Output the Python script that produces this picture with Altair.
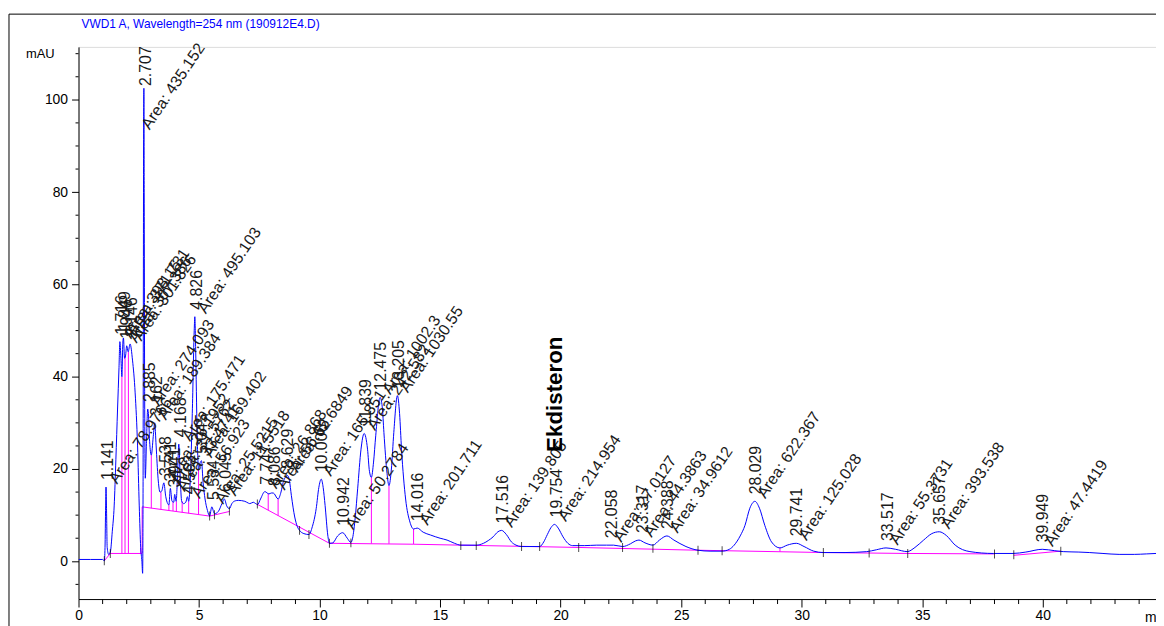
import altair as alt
import pandas as pd

TITLE = "VWD1 A, Wavelength=254 nm (190912E4.D)"

# ---- signal trace (min, mAU) ----
trace_t = [0.0, 0.5, 1.0, 1.07, 1.10, 1.125, 1.141, 1.16, 1.19, 1.25, 1.32, 1.40, 1.48, 1.55, 1.62, 1.68,
           1.716, 1.76, 1.80, 1.84, 1.865, 1.91, 1.95, 2.0, 2.06, 2.14, 2.24, 2.35, 2.45, 2.52, 2.58, 2.63,
           2.66, 2.68, 2.70, 2.712, 2.725, 2.745, 2.77, 2.82, 2.87, 2.90, 2.95, 3.02, 3.10, 3.16, 3.22, 3.30,
           3.38, 3.45, 3.54, 3.62, 3.70, 3.75, 3.81, 3.88, 3.95, 3.99, 4.05, 4.11, 4.16, 4.22, 4.28, 4.36,
           4.45, 4.52, 4.57, 4.64, 4.72, 4.80, 4.826, 4.86, 4.92, 4.98, 5.05, 5.10, 5.17, 5.25, 5.35, 5.44,
           5.53, 5.64, 5.80, 5.95, 6.05, 6.15, 6.26, 6.36, 6.50, 6.63, 6.90, 7.05, 7.11, 7.25, 7.35, 7.43,
           7.55, 7.73, 7.90, 8.00, 8.08, 8.28, 8.40, 8.49, 8.67, 8.75, 8.83, 8.97, 9.08, 9.17, 9.35, 9.56,
           9.70, 9.86, 9.97, 10.07, 10.15, 10.23, 10.34, 10.41, 10.55, 10.75, 10.96, 11.15, 11.30, 11.37,
           11.48, 11.58, 11.72, 11.85, 11.99, 12.07, 12.15, 12.24, 12.33, 12.51, 12.60, 12.67, 12.80, 12.88,
           12.98, 13.08, 13.23, 13.32, 13.40, 13.57, 13.75, 13.90, 14.05, 14.30, 14.60, 15.00, 15.29, 15.60,
           15.86, 16.50, 16.80, 17.00, 17.20, 17.40, 17.55, 17.75, 17.96, 18.15, 18.38, 19.13, 19.30, 19.45,
           19.60, 19.75, 19.90, 20.10, 20.30, 20.50, 21.00, 21.50, 21.90, 22.20, 22.57, 22.90, 23.10, 23.25,
           23.50, 23.83, 24.10, 24.41, 24.70, 25.20, 25.70, 26.20, 26.70, 27.00, 27.20, 27.45, 27.65, 27.85,
           28.06, 28.25, 28.47, 28.75, 29.10, 29.40, 29.78, 30.10, 30.50, 30.90, 31.80, 32.70, 33.10, 33.50,
           33.90, 34.38, 34.70, 35.06, 35.40, 35.71, 36.00, 36.37, 36.98, 37.95, 38.77, 39.30, 39.98, 40.50,
           40.85, 41.50, 41.93, 42.50, 43.17, 43.80, 44.30, 44.70]
trace_v = [0.4, 0.4, 0.4, 0.1, 3.0, 12.0, 16.1, 12.0, 3.0, 1.5, 2.0, 6.4, 12.0, 22.0, 33.0, 42.0,
           47.6, 44.0, 40.0, 47.5, 48.4, 44.0, 44.5, 46.7, 45.4, 47.1, 43.6, 36.5, 25.0, 12.0, 3.0, 0.0,
           -2.6, 20.0, 90.0, 102.5, 80.0, 35.0, 18.0, 26.0, 33.0, 32.0, 26.0, 23.0, 27.0, 30.0, 25.0, 18.0,
           15.0, 15.2, 17.0, 14.0, 12.5, 12.2, 15.8, 13.0, 12.8, 14.5, 13.0, 19.0, 25.4, 18.0, 13.0, 12.5,
           12.8, 14.0, 13.0, 18.0, 32.0, 50.0, 53.0, 46.0, 28.0, 20.0, 21.4, 21.8, 17.0, 13.5, 11.0, 9.8,
           11.8, 10.3, 10.8, 12.5, 13.5, 12.0, 11.4, 12.5, 13.1, 13.2, 13.0, 12.6, 12.5, 12.8, 12.5, 12.3,
           13.5, 15.1, 14.6, 14.8, 14.8, 13.5, 15.0, 17.1, 18.6, 17.5, 14.3, 9.6, 7.5, 6.7, 6.0, 5.8,
           7.5, 11.4, 16.0, 17.8, 16.0, 12.1, 5.7, 3.9, 4.0, 5.5, 6.2, 5.0, 4.1, 5.0,
           9.5, 15.7, 24.3, 27.7, 24.3, 19.5, 18.2, 21.5, 27.2, 35.5, 33.5, 27.9, 19.0, 16.4,
           20.0, 27.9, 35.9, 32.0, 24.3, 13.5, 8.5, 7.0, 7.2, 6.3, 5.7, 5.0, 4.6, 3.9,
           3.5, 3.5, 3.9, 4.5, 5.3, 6.4, 6.7, 5.8, 4.2, 3.5, 3.2, 3.2, 4.2, 5.8,
           7.3, 8.0, 7.2, 5.3, 3.9, 3.4, 3.4, 3.5, 3.5, 3.5, 3.2, 3.8, 4.4, 4.6,
           4.0, 3.5, 4.6, 5.5, 4.6, 3.2, 2.4, 2.2, 2.2, 2.6, 3.5, 5.5, 7.8, 11.5,
           13.0, 11.5, 7.8, 4.2, 2.9, 3.5, 3.9, 3.2, 2.2, 1.9, 1.9, 2.1, 2.5, 2.9,
           2.6, 2.1, 3.0, 4.6, 6.0, 6.4, 5.6, 3.5, 2.1, 1.7, 1.7, 2.0, 2.6, 2.3,
           2.1, 2.0, 1.9, 1.7, 1.5, 1.5, 1.6, 1.7]

# ---- integration baselines (segment id, min, mAU) ----
base_seg = [1, 1, 1, 2, 2, 3, 3, 4, 4, 5, 5, 5, 5, 5, 5, 5, 6, 6]
base_t = [1.07, 1.32, 2.64, 2.64, 5.44, 5.44, 6.26, 7.40, 10.41, 10.41, 13.90, 20.75, 25.70, 30.90, 34.40, 38.00, 38.80, 40.75]
base_v = [0.1, 1.7, 1.7, 11.8, 9.8, 9.8, 10.8, 12.4, 3.9, 3.9, 3.7, 3.0, 2.4, 1.9, 1.7, 1.6, 1.3, 2.2]

# ---- drop lines from baseline to signal ----
drop_t = [1.80, 1.93, 2.07, 2.58, 2.64, 3.02, 3.42, 3.75, 3.92, 4.06, 4.30, 4.57, 4.98, 7.87, 8.28, 12.15, 12.88, 13.90, 29.10]
drop_lo = [1.7, 1.7, 1.7, 1.7, 1.7, 11.5, 11.2, 11.0, 10.9, 10.8, 10.6, 10.4, 10.1, 11.1, 9.9, 3.85, 3.8, 3.7, 2.1]
drop_hi = [40.0, 44.5, 45.4, 3.0, 11.8, 23.0, 15.0, 12.2, 12.8, 13.0, 13.0, 13.0, 20.0, 14.6, 13.5, 18.2, 16.4, 7.0, 2.9]

# ---- peak start / end marks ----
mark_t = [1.07, 1.32, 5.44, 5.64, 6.26, 7.42, 9.17, 9.56, 10.41, 11.30, 15.86, 16.50, 18.38, 19.13,
          20.75, 22.57, 23.83, 25.70, 26.70, 30.90, 32.80, 34.40, 38.00, 38.80, 40.75]
mark_v = [0.1, 1.7, 9.8, 10.1, 10.9, 12.4, 6.7, 5.8, 3.9, 4.0, 3.4, 3.4, 3.2, 3.2,
          3.0, 3.0, 2.8, 2.4, 2.3, 1.9, 1.8, 1.7, 1.6, 1.4, 2.2]

# ---- peak annotations ----
peak_rt = ["1.141", "1.716", "1.849", "1.946", "2.146", "2.707", "2.885", "3.162", "3.538", "3.741",
           "3.941", "4.168", "4.562", "4.826", "5.045", "5.534", "6.045", "7.747", "8.086", "8.629",
           "10.006", "10.942", "11.839", "12.475", "13.205", "14.016", "17.516", "19.754", "22.058",
           "23.317", "24.388", "28.029", "29.741", "33.517", "35.657", "39.949"]
peak_t = [1.141, 1.716, 1.849, 1.946, 2.146, 2.707, 2.885, 3.162, 3.538, 3.741,
          3.941, 4.168, 4.562, 4.826, 5.045, 5.534, 6.045, 7.747, 8.086, 8.629,
          10.006, 10.942, 11.839, 12.475, 13.205, 14.016, 17.516, 19.754, 22.058,
          23.317, 24.388, 28.029, 29.741, 33.517, 35.657, 39.949]
peak_h = [16.1, 47.6, 48.4, 46.7, 47.1, 101.5, 33.0, 30.0, 17.0, 15.8,
          14.5, 25.4, 13.0, 53.0, 21.8, 11.8, 13.5, 15.1, 14.8, 18.6,
          17.8, 6.2, 27.7, 35.5, 35.9, 7.2, 6.7, 8.0, 3.5,
          4.6, 5.5, 13.0, 3.9, 2.9, 6.4, 2.6]
peak_area = ["Area: 78.9766", "Area: 398.15", "Area: 371.731", "Area: 307.386", "Area: 301.826",
             "Area: 435.152", "Area: 274.093", "Area: 189.384", "Area: 26.1952", "Area: 31.5762",
             "Area: 33.4741", "Area: 175.471", "Area: 56.923", "Area: 495.103", "Area: 169.402",
             "Area: 25.5215", "Area: 11.5518", "Area: 26.868", "Area: 56.65", "Area: 62.6849",
             "Area: 165.851", "Area: 50.2784", "Area: 242.582", "Area: 1002.3", "Area: 1030.55",
             "Area: 201.711", "Area: 139.805", "Area: 214.954", "Area: 27.0127",
             "Area: 44.3863", "Area: 34.9612", "Area: 622.367", "Area: 125.028", "Area: 55.3731",
             "Area: 393.538", "Area: 47.4419"]

compound_name = "Ekdisteron"
compound_t = [19.754]
compound_h = [8.0]

y_major = [0, 20, 40, 60, 80, 100]
y_minor = [-5, 5, 10, 15, 25, 30, 35, 45, 50, 55, 65, 70, 75, 85, 90, 95, 105, 110]
x_major = [0, 5, 10, 15, 20, 25, 30, 35, 40]
x_minor = [m for m in range(1, 45) if m % 5 != 0]

X_DOMAIN = [0, 44.7]
Y_DOMAIN = [-8.18, 111.47]
W, H = 1085, 556

FONT = "Liberation Sans"
BLUE = "#0000ff"
MAG = "#ff00ff"
LBL = 16
ANG = 304

xs = alt.Scale(domain=X_DOMAIN, nice=False, zero=False)
ys = alt.Scale(domain=Y_DOMAIN, nice=False, zero=False)

trace = pd.DataFrame({"t": trace_t, "v": trace_v})
base = pd.DataFrame({"seg": base_seg, "t": base_t, "v": base_v})
drops = pd.DataFrame({"t": drop_t, "lo": drop_lo, "hi": drop_hi})
marks = pd.DataFrame({"t": mark_t, "v": mark_v})
peaks = pd.DataFrame({"rt": peak_rt, "t": peak_t, "h": peak_h, "area": peak_area})
comp = pd.DataFrame({"name": [compound_name], "t": compound_t, "h": compound_h})
one = pd.DataFrame({"k": [0]})

x_axis = alt.Axis(values=x_major, tickSize=8, labelFontSize=14, labelFont=FONT, labelColor="#000",
                  domainColor="#000", tickColor="#000", grid=False, title=None, labelPadding=2,
                  labelFlush=False)
y_axis = alt.Axis(values=y_major, tickSize=7, labelFontSize=14, labelFont=FONT, labelColor="#000",
                  domainColor="#000", tickColor="#000", grid=False, title=None, labelPadding=4)

line = alt.Chart(trace).mark_line(color=BLUE, strokeWidth=1, interpolate="monotone", clip=True).encode(
    x=alt.X("t:Q", scale=xs, axis=x_axis),
    y=alt.Y("v:Q", scale=ys, axis=y_axis),
    order="t:Q",
)

baseline = alt.Chart(base).mark_line(color=MAG, strokeWidth=1, clip=True).encode(
    x=alt.X("t:Q", scale=xs), y=alt.Y("v:Q", scale=ys), detail="seg:N", order="t:Q"
)

droplines = alt.Chart(drops).mark_rule(color=MAG, strokeWidth=1).encode(
    x=alt.X("t:Q", scale=xs), y=alt.Y("lo:Q", scale=ys), y2="hi:Q"
)

ticks = alt.Chart(marks).mark_tick(orient="vertical", size=9, thickness=1, color="#000").encode(
    x=alt.X("t:Q", scale=xs), y=alt.Y("v:Q", scale=ys)
)

rt_text = alt.Chart(peaks).mark_text(angle=270, align="left", baseline="middle", dx=7, dy=2,
                                     fontSize=LBL, font=FONT, color="#1a1a1a").encode(
    x=alt.X("t:Q", scale=xs), y=alt.Y("h:Q", scale=ys), text="rt:N"
)

area_text = alt.Chart(peaks).transform_filter(alt.datum.rt != "2.707").mark_text(
    angle=ANG, align="left", baseline="middle", dx=8, dy=3,
    fontSize=LBL, font=FONT, color="#1a1a1a").encode(
    x=alt.X("t:Q", scale=xs), y=alt.Y("h:Q", scale=ys), text="area:N"
)
area_text_main = alt.Chart(peaks).transform_filter(alt.datum.rt == "2.707").mark_text(
    angle=ANG, align="left", baseline="middle", dx=-28, dy=21,
    fontSize=LBL, font=FONT, color="#1a1a1a").encode(
    x=alt.X("t:Q", scale=xs), y=alt.Y("h:Q", scale=ys), text="area:N"
)

comp_text = alt.Chart(comp).mark_text(angle=270, align="left", baseline="middle", dx=73, dy=0,
                                      fontSize=22.5, font=FONT, fontWeight="bold", color="#000").encode(
    x=alt.X("t:Q", scale=xs), y=alt.Y("h:Q", scale=ys), text="name:N"
)

y_minor_ticks = alt.Chart(pd.DataFrame({"v": y_minor})).mark_rule(color="#000", strokeWidth=1).encode(
    y=alt.Y("v:Q", scale=ys), x=alt.value(-3), x2=alt.value(0)
)
x_minor_ticks = alt.Chart(pd.DataFrame({"t": x_minor})).mark_rule(color="#000", strokeWidth=1).encode(
    x=alt.X("t:Q", scale=xs), y=alt.value(H), y2=alt.value(H + 5)
)

title = alt.Chart(one).mark_text(align="left", baseline="middle", fontSize=12, font=FONT,
                                 color=BLUE).encode(
    x=alt.value(3), y=alt.value(-23), text=alt.value(TITLE)
)
mau = alt.Chart(pd.DataFrame({"v": [110], "s": ["mAU"]})).mark_text(
    align="right", baseline="middle", fontSize=13, font=FONT, color="#000").encode(
    x=alt.value(-24), y=alt.Y("v:Q", scale=ys), text="s:N"
)
minlab = alt.Chart(one).mark_text(align="left", baseline="top", fontSize=14, font=FONT,
                                  color="#000").encode(
    x=alt.value(1074), y=alt.value(H + 12), text=alt.value("min")
)

frame_left = alt.Chart(one).mark_rule(color="#000", strokeWidth=1).encode(
    x=alt.value(-70), y=alt.value(-33), y2=alt.value(H + 60)
)
frame_top = alt.Chart(one).mark_rule(color="#000", strokeWidth=1).encode(
    x=alt.value(-70), x2=alt.value(W + 40), y=alt.value(-33)
)

chart = alt.layer(
    frame_left, frame_top, title, mau, minlab, y_minor_ticks, x_minor_ticks,
    baseline, droplines, line, ticks, rt_text, area_text, area_text_main, comp_text
).properties(
    width=W, height=H,
    autosize=alt.AutoSizeParams(type="none"),
    padding={"left": 71, "top": 37, "right": 0, "bottom": 30},
).configure_view(stroke=None).configure(background="white")

chart.save("out.html", embed_options={"renderer": "svg", "actions": False})
